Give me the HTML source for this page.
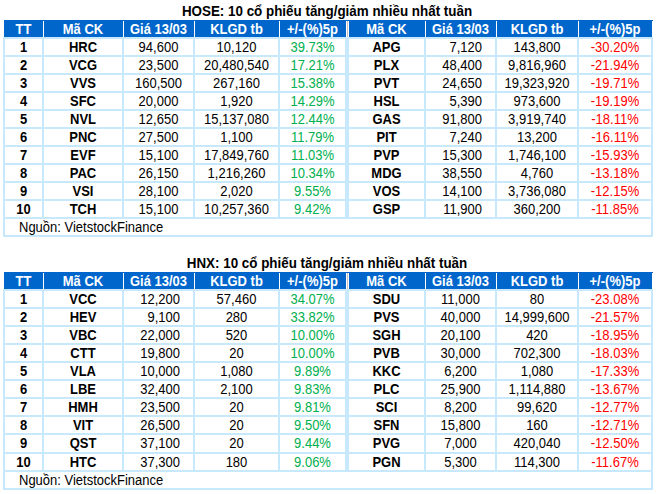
<!DOCTYPE html>
<html><head><meta charset="utf-8"><style>
html,body{margin:0;padding:0;background:#fff;width:656px;height:494px;overflow:hidden;position:relative}
body>div{position:absolute}
.t{font-family:"Liberation Sans",sans-serif;font-size:13px;line-height:15px;white-space:nowrap;color:#000;transform:scaleY(1.11);transform-origin:50% 7px}
.h{font-weight:bold;color:#fff}
.b{font-weight:bold}
.g{color:#00b050}
.r{color:#ff0000}
.ti{left:-1px;width:656px;text-align:center;font-family:"Liberation Sans",sans-serif;font-weight:bold;font-size:13.4px;line-height:15px;white-space:nowrap;color:#000;transform:scaleY(1.11);transform-origin:50% 7px}
</style></head><body>
<div class="ti" style="top:3px">HOSE: 10 cổ phiếu tăng/giảm nhiều nhất tuần</div>
<div style="left:4px;top:20px;width:648px;height:17px;background:#0066cc;"></div>
<div style="left:652px;top:20px;width:1px;height:1px;background:#0066cc;"></div>
<div style="left:43px;top:21px;width:1px;height:16px;background:#fff;"></div>
<div style="left:123px;top:21px;width:1px;height:16px;background:#fff;"></div>
<div style="left:194px;top:21px;width:1px;height:16px;background:#fff;"></div>
<div style="left:279px;top:21px;width:1px;height:16px;background:#fff;"></div>
<div style="left:425px;top:21px;width:1px;height:16px;background:#fff;"></div>
<div style="left:496px;top:21px;width:1px;height:16px;background:#fff;"></div>
<div style="left:578px;top:21px;width:1px;height:16px;background:#fff;"></div>
<div style="left:346px;top:21px;width:3px;height:16px;background:#fff;"></div>
<div style="left:347px;top:21px;width:1px;height:16px;background:#c8c0c0;"></div>
<div class="t h" style="left:5px;top:21px;width:37px;text-align:center;">TT</div>
<div class="t h" style="left:44px;top:21px;width:78px;text-align:center;">Mã CK</div>
<div class="t h" style="left:124px;top:21px;width:69px;text-align:center;">Giá 13/03</div>
<div class="t h" style="left:195px;top:21px;width:83px;text-align:center;">KLGD tb</div>
<div class="t h" style="left:280px;top:21px;width:65px;text-align:center;">+/-(%)5p</div>
<div class="t h" style="left:349px;top:21px;width:75px;text-align:center;">Mã CK</div>
<div class="t h" style="left:426px;top:21px;width:69px;text-align:center;">Giá 13/03</div>
<div class="t h" style="left:497px;top:21px;width:80px;text-align:center;">KLGD tb</div>
<div class="t h" style="left:579px;top:21px;width:72px;text-align:center;">+/-(%)5p</div>
<div style="left:3px;top:37px;width:650px;height:2px;background:#c8e9fd;"></div>
<div style="left:3px;top:55px;width:650px;height:2px;background:#c8e9fd;"></div>
<div style="left:3px;top:73px;width:650px;height:2px;background:#c8e9fd;"></div>
<div style="left:3px;top:91px;width:650px;height:2px;background:#c8e9fd;"></div>
<div style="left:3px;top:109px;width:650px;height:2px;background:#c8e9fd;"></div>
<div style="left:3px;top:127px;width:650px;height:2px;background:#c8e9fd;"></div>
<div style="left:3px;top:145px;width:650px;height:2px;background:#c8e9fd;"></div>
<div style="left:3px;top:163px;width:650px;height:2px;background:#c8e9fd;"></div>
<div style="left:3px;top:181px;width:650px;height:2px;background:#c8e9fd;"></div>
<div style="left:3px;top:199px;width:650px;height:2px;background:#c8e9fd;"></div>
<div style="left:3px;top:217px;width:650px;height:2px;background:#c8e9fd;"></div>
<div style="left:3px;top:235px;width:650px;height:2px;background:#c8e9fd;"></div>
<div style="left:3px;top:37px;width:2px;height:200px;background:#c8e9fd;"></div>
<div style="left:42px;top:37px;width:2px;height:180px;background:#c8e9fd;"></div>
<div style="left:122px;top:37px;width:2px;height:180px;background:#c8e9fd;"></div>
<div style="left:193px;top:37px;width:2px;height:180px;background:#c8e9fd;"></div>
<div style="left:278px;top:37px;width:2px;height:180px;background:#c8e9fd;"></div>
<div style="left:345px;top:37px;width:4px;height:180px;background:#c8e9fd;"></div>
<div style="left:424px;top:37px;width:2px;height:180px;background:#c8e9fd;"></div>
<div style="left:495px;top:37px;width:2px;height:180px;background:#c8e9fd;"></div>
<div style="left:577px;top:37px;width:2px;height:180px;background:#c8e9fd;"></div>
<div style="left:651px;top:37px;width:2px;height:200px;background:#c8e9fd;"></div>
<div class="t b" style="left:5px;top:39px;width:37px;text-align:center;">1</div>
<div class="t b" style="left:44px;top:39px;width:78px;text-align:center;">HRC</div>
<div class="t n" style="left:124px;top:39px;width:69px;text-align:center;">94,600</div>
<div class="t n" style="left:195px;top:39px;width:83px;text-align:center;">10,120</div>
<div class="t g" style="left:280px;top:39px;width:65px;text-align:center;">39.73%</div>
<div class="t b" style="left:349px;top:39px;width:75px;text-align:center;">APG</div>
<div class="t n" style="left:426px;top:39px;width:56px;text-align:right;">7,120</div>
<div class="t n" style="left:497px;top:39px;width:80px;text-align:center;">143,800</div>
<div class="t r" style="left:579px;top:39px;width:72px;text-align:center;">-30.20%</div>
<div class="t b" style="left:5px;top:57px;width:37px;text-align:center;">2</div>
<div class="t b" style="left:44px;top:57px;width:78px;text-align:center;">VCG</div>
<div class="t n" style="left:124px;top:57px;width:69px;text-align:center;">23,500</div>
<div class="t n" style="left:195px;top:57px;width:83px;text-align:center;">20,480,540</div>
<div class="t g" style="left:280px;top:57px;width:65px;text-align:center;">17.21%</div>
<div class="t b" style="left:349px;top:57px;width:75px;text-align:center;">PLX</div>
<div class="t n" style="left:426px;top:57px;width:56px;text-align:right;">48,400</div>
<div class="t n" style="left:497px;top:57px;width:80px;text-align:center;">9,816,960</div>
<div class="t r" style="left:579px;top:57px;width:72px;text-align:center;">-21.94%</div>
<div class="t b" style="left:5px;top:75px;width:37px;text-align:center;">3</div>
<div class="t b" style="left:44px;top:75px;width:78px;text-align:center;">VVS</div>
<div class="t n" style="left:124px;top:75px;width:69px;text-align:center;">160,500</div>
<div class="t n" style="left:195px;top:75px;width:83px;text-align:center;">267,160</div>
<div class="t g" style="left:280px;top:75px;width:65px;text-align:center;">15.38%</div>
<div class="t b" style="left:349px;top:75px;width:75px;text-align:center;">PVT</div>
<div class="t n" style="left:426px;top:75px;width:56px;text-align:right;">24,650</div>
<div class="t n" style="left:497px;top:75px;width:80px;text-align:center;">19,323,920</div>
<div class="t r" style="left:579px;top:75px;width:72px;text-align:center;">-19.71%</div>
<div class="t b" style="left:5px;top:93px;width:37px;text-align:center;">4</div>
<div class="t b" style="left:44px;top:93px;width:78px;text-align:center;">SFC</div>
<div class="t n" style="left:124px;top:93px;width:69px;text-align:center;">20,000</div>
<div class="t n" style="left:195px;top:93px;width:83px;text-align:center;">1,920</div>
<div class="t g" style="left:280px;top:93px;width:65px;text-align:center;">14.29%</div>
<div class="t b" style="left:349px;top:93px;width:75px;text-align:center;">HSL</div>
<div class="t n" style="left:426px;top:93px;width:56px;text-align:right;">5,390</div>
<div class="t n" style="left:497px;top:93px;width:80px;text-align:center;">973,600</div>
<div class="t r" style="left:579px;top:93px;width:72px;text-align:center;">-19.19%</div>
<div class="t b" style="left:5px;top:111px;width:37px;text-align:center;">5</div>
<div class="t b" style="left:44px;top:111px;width:78px;text-align:center;">NVL</div>
<div class="t n" style="left:124px;top:111px;width:69px;text-align:center;">12,650</div>
<div class="t n" style="left:195px;top:111px;width:83px;text-align:center;">15,137,080</div>
<div class="t g" style="left:280px;top:111px;width:65px;text-align:center;">12.44%</div>
<div class="t b" style="left:349px;top:111px;width:75px;text-align:center;">GAS</div>
<div class="t n" style="left:426px;top:111px;width:56px;text-align:right;">91,800</div>
<div class="t n" style="left:497px;top:111px;width:80px;text-align:center;">3,919,740</div>
<div class="t r" style="left:579px;top:111px;width:72px;text-align:center;">-18.11%</div>
<div class="t b" style="left:5px;top:129px;width:37px;text-align:center;">6</div>
<div class="t b" style="left:44px;top:129px;width:78px;text-align:center;">PNC</div>
<div class="t n" style="left:124px;top:129px;width:69px;text-align:center;">27,500</div>
<div class="t n" style="left:195px;top:129px;width:83px;text-align:center;">1,100</div>
<div class="t g" style="left:280px;top:129px;width:65px;text-align:center;">11.79%</div>
<div class="t b" style="left:349px;top:129px;width:75px;text-align:center;">PIT</div>
<div class="t n" style="left:426px;top:129px;width:56px;text-align:right;">7,240</div>
<div class="t n" style="left:497px;top:129px;width:80px;text-align:center;">13,200</div>
<div class="t r" style="left:579px;top:129px;width:72px;text-align:center;">-16.11%</div>
<div class="t b" style="left:5px;top:147px;width:37px;text-align:center;">7</div>
<div class="t b" style="left:44px;top:147px;width:78px;text-align:center;">EVF</div>
<div class="t n" style="left:124px;top:147px;width:69px;text-align:center;">15,100</div>
<div class="t n" style="left:195px;top:147px;width:83px;text-align:center;">17,849,760</div>
<div class="t g" style="left:280px;top:147px;width:65px;text-align:center;">11.03%</div>
<div class="t b" style="left:349px;top:147px;width:75px;text-align:center;">PVP</div>
<div class="t n" style="left:426px;top:147px;width:56px;text-align:right;">15,300</div>
<div class="t n" style="left:497px;top:147px;width:80px;text-align:center;">1,746,100</div>
<div class="t r" style="left:579px;top:147px;width:72px;text-align:center;">-15.93%</div>
<div class="t b" style="left:5px;top:165px;width:37px;text-align:center;">8</div>
<div class="t b" style="left:44px;top:165px;width:78px;text-align:center;">PAC</div>
<div class="t n" style="left:124px;top:165px;width:69px;text-align:center;">26,150</div>
<div class="t n" style="left:195px;top:165px;width:83px;text-align:center;">1,216,260</div>
<div class="t g" style="left:280px;top:165px;width:65px;text-align:center;">10.34%</div>
<div class="t b" style="left:349px;top:165px;width:75px;text-align:center;">MDG</div>
<div class="t n" style="left:426px;top:165px;width:56px;text-align:right;">38,550</div>
<div class="t n" style="left:497px;top:165px;width:80px;text-align:center;">4,760</div>
<div class="t r" style="left:579px;top:165px;width:72px;text-align:center;">-13.18%</div>
<div class="t b" style="left:5px;top:183px;width:37px;text-align:center;">9</div>
<div class="t b" style="left:44px;top:183px;width:78px;text-align:center;">VSI</div>
<div class="t n" style="left:124px;top:183px;width:69px;text-align:center;">28,100</div>
<div class="t n" style="left:195px;top:183px;width:83px;text-align:center;">2,020</div>
<div class="t g" style="left:280px;top:183px;width:65px;text-align:center;">9.55%</div>
<div class="t b" style="left:349px;top:183px;width:75px;text-align:center;">VOS</div>
<div class="t n" style="left:426px;top:183px;width:56px;text-align:right;">14,100</div>
<div class="t n" style="left:497px;top:183px;width:80px;text-align:center;">3,736,080</div>
<div class="t r" style="left:579px;top:183px;width:72px;text-align:center;">-12.15%</div>
<div class="t b" style="left:5px;top:201px;width:37px;text-align:center;">10</div>
<div class="t b" style="left:44px;top:201px;width:78px;text-align:center;">TCH</div>
<div class="t n" style="left:124px;top:201px;width:69px;text-align:center;">15,100</div>
<div class="t n" style="left:195px;top:201px;width:83px;text-align:center;">10,257,360</div>
<div class="t g" style="left:280px;top:201px;width:65px;text-align:center;">9.42%</div>
<div class="t b" style="left:349px;top:201px;width:75px;text-align:center;">GSP</div>
<div class="t n" style="left:426px;top:201px;width:56px;text-align:right;">11,900</div>
<div class="t n" style="left:497px;top:201px;width:80px;text-align:center;">360,200</div>
<div class="t r" style="left:579px;top:201px;width:72px;text-align:center;">-11.85%</div>
<div class="t n" style="left:19px;top:219px;width:300px;text-align:left;">Nguồn: VietstockFinance</div>
<div class="ti" style="top:255px">HNX: 10 cổ phiếu tăng/giảm nhiều nhất tuần</div>
<div style="left:4px;top:272px;width:648px;height:17px;background:#0066cc;"></div>
<div style="left:652px;top:272px;width:1px;height:1px;background:#0066cc;"></div>
<div style="left:43px;top:273px;width:1px;height:16px;background:#fff;"></div>
<div style="left:123px;top:273px;width:1px;height:16px;background:#fff;"></div>
<div style="left:194px;top:273px;width:1px;height:16px;background:#fff;"></div>
<div style="left:279px;top:273px;width:1px;height:16px;background:#fff;"></div>
<div style="left:425px;top:273px;width:1px;height:16px;background:#fff;"></div>
<div style="left:496px;top:273px;width:1px;height:16px;background:#fff;"></div>
<div style="left:578px;top:273px;width:1px;height:16px;background:#fff;"></div>
<div style="left:346px;top:273px;width:3px;height:16px;background:#fff;"></div>
<div style="left:347px;top:273px;width:1px;height:16px;background:#c8c0c0;"></div>
<div class="t h" style="left:5px;top:273px;width:37px;text-align:center;">TT</div>
<div class="t h" style="left:44px;top:273px;width:78px;text-align:center;">Mã CK</div>
<div class="t h" style="left:124px;top:273px;width:69px;text-align:center;">Giá 13/03</div>
<div class="t h" style="left:195px;top:273px;width:83px;text-align:center;">KLGD tb</div>
<div class="t h" style="left:280px;top:273px;width:65px;text-align:center;">+/-(%)5p</div>
<div class="t h" style="left:349px;top:273px;width:75px;text-align:center;">Mã CK</div>
<div class="t h" style="left:426px;top:273px;width:69px;text-align:center;">Giá 13/03</div>
<div class="t h" style="left:497px;top:273px;width:80px;text-align:center;">KLGD tb</div>
<div class="t h" style="left:579px;top:273px;width:72px;text-align:center;">+/-(%)5p</div>
<div style="left:3px;top:289px;width:650px;height:2px;background:#c8e9fd;"></div>
<div style="left:3px;top:307px;width:650px;height:2px;background:#c8e9fd;"></div>
<div style="left:3px;top:325px;width:650px;height:2px;background:#c8e9fd;"></div>
<div style="left:3px;top:343px;width:650px;height:2px;background:#c8e9fd;"></div>
<div style="left:3px;top:361px;width:650px;height:2px;background:#c8e9fd;"></div>
<div style="left:3px;top:379px;width:650px;height:2px;background:#c8e9fd;"></div>
<div style="left:3px;top:397px;width:650px;height:2px;background:#c8e9fd;"></div>
<div style="left:3px;top:415px;width:650px;height:2px;background:#c8e9fd;"></div>
<div style="left:3px;top:433px;width:650px;height:2px;background:#c8e9fd;"></div>
<div style="left:3px;top:452px;width:650px;height:2px;background:#c8e9fd;"></div>
<div style="left:3px;top:470px;width:650px;height:2px;background:#c8e9fd;"></div>
<div style="left:3px;top:488px;width:650px;height:2px;background:#c8e9fd;"></div>
<div style="left:3px;top:289px;width:2px;height:201px;background:#c8e9fd;"></div>
<div style="left:42px;top:289px;width:2px;height:181px;background:#c8e9fd;"></div>
<div style="left:122px;top:289px;width:2px;height:181px;background:#c8e9fd;"></div>
<div style="left:193px;top:289px;width:2px;height:181px;background:#c8e9fd;"></div>
<div style="left:278px;top:289px;width:2px;height:181px;background:#c8e9fd;"></div>
<div style="left:345px;top:289px;width:4px;height:181px;background:#c8e9fd;"></div>
<div style="left:424px;top:289px;width:2px;height:181px;background:#c8e9fd;"></div>
<div style="left:495px;top:289px;width:2px;height:181px;background:#c8e9fd;"></div>
<div style="left:577px;top:289px;width:2px;height:181px;background:#c8e9fd;"></div>
<div style="left:651px;top:289px;width:2px;height:201px;background:#c8e9fd;"></div>
<div class="t b" style="left:5px;top:291px;width:37px;text-align:center;">1</div>
<div class="t b" style="left:44px;top:291px;width:78px;text-align:center;">VCC</div>
<div class="t n" style="left:124px;top:291px;width:56px;text-align:right;">12,200</div>
<div class="t n" style="left:195px;top:291px;width:83px;text-align:center;">57,460</div>
<div class="t g" style="left:280px;top:291px;width:65px;text-align:center;">34.07%</div>
<div class="t b" style="left:349px;top:291px;width:75px;text-align:center;">SDU</div>
<div class="t n" style="left:426px;top:291px;width:69px;text-align:center;">11,000</div>
<div class="t n" style="left:497px;top:291px;width:80px;text-align:center;">80</div>
<div class="t r" style="left:579px;top:291px;width:72px;text-align:center;">-23.08%</div>
<div class="t b" style="left:5px;top:309px;width:37px;text-align:center;">2</div>
<div class="t b" style="left:44px;top:309px;width:78px;text-align:center;">HEV</div>
<div class="t n" style="left:124px;top:309px;width:56px;text-align:right;">9,100</div>
<div class="t n" style="left:195px;top:309px;width:83px;text-align:center;">280</div>
<div class="t g" style="left:280px;top:309px;width:65px;text-align:center;">33.82%</div>
<div class="t b" style="left:349px;top:309px;width:75px;text-align:center;">PVS</div>
<div class="t n" style="left:426px;top:309px;width:69px;text-align:center;">40,000</div>
<div class="t n" style="left:497px;top:309px;width:80px;text-align:center;">14,999,600</div>
<div class="t r" style="left:579px;top:309px;width:72px;text-align:center;">-21.57%</div>
<div class="t b" style="left:5px;top:327px;width:37px;text-align:center;">3</div>
<div class="t b" style="left:44px;top:327px;width:78px;text-align:center;">VBC</div>
<div class="t n" style="left:124px;top:327px;width:56px;text-align:right;">22,000</div>
<div class="t n" style="left:195px;top:327px;width:83px;text-align:center;">520</div>
<div class="t g" style="left:280px;top:327px;width:65px;text-align:center;">10.00%</div>
<div class="t b" style="left:349px;top:327px;width:75px;text-align:center;">SGH</div>
<div class="t n" style="left:426px;top:327px;width:69px;text-align:center;">20,100</div>
<div class="t n" style="left:497px;top:327px;width:80px;text-align:center;">420</div>
<div class="t r" style="left:579px;top:327px;width:72px;text-align:center;">-18.95%</div>
<div class="t b" style="left:5px;top:345px;width:37px;text-align:center;">4</div>
<div class="t b" style="left:44px;top:345px;width:78px;text-align:center;">CTT</div>
<div class="t n" style="left:124px;top:345px;width:56px;text-align:right;">19,800</div>
<div class="t n" style="left:195px;top:345px;width:83px;text-align:center;">20</div>
<div class="t g" style="left:280px;top:345px;width:65px;text-align:center;">10.00%</div>
<div class="t b" style="left:349px;top:345px;width:75px;text-align:center;">PVB</div>
<div class="t n" style="left:426px;top:345px;width:69px;text-align:center;">30,000</div>
<div class="t n" style="left:497px;top:345px;width:80px;text-align:center;">702,300</div>
<div class="t r" style="left:579px;top:345px;width:72px;text-align:center;">-18.03%</div>
<div class="t b" style="left:5px;top:363px;width:37px;text-align:center;">5</div>
<div class="t b" style="left:44px;top:363px;width:78px;text-align:center;">VLA</div>
<div class="t n" style="left:124px;top:363px;width:56px;text-align:right;">10,000</div>
<div class="t n" style="left:195px;top:363px;width:83px;text-align:center;">1,080</div>
<div class="t g" style="left:280px;top:363px;width:65px;text-align:center;">9.89%</div>
<div class="t b" style="left:349px;top:363px;width:75px;text-align:center;">KKC</div>
<div class="t n" style="left:426px;top:363px;width:69px;text-align:center;">6,200</div>
<div class="t n" style="left:497px;top:363px;width:80px;text-align:center;">1,080</div>
<div class="t r" style="left:579px;top:363px;width:72px;text-align:center;">-17.33%</div>
<div class="t b" style="left:5px;top:381px;width:37px;text-align:center;">6</div>
<div class="t b" style="left:44px;top:381px;width:78px;text-align:center;">LBE</div>
<div class="t n" style="left:124px;top:381px;width:56px;text-align:right;">32,400</div>
<div class="t n" style="left:195px;top:381px;width:83px;text-align:center;">2,100</div>
<div class="t g" style="left:280px;top:381px;width:65px;text-align:center;">9.83%</div>
<div class="t b" style="left:349px;top:381px;width:75px;text-align:center;">PLC</div>
<div class="t n" style="left:426px;top:381px;width:69px;text-align:center;">25,900</div>
<div class="t n" style="left:497px;top:381px;width:80px;text-align:center;">1,114,880</div>
<div class="t r" style="left:579px;top:381px;width:72px;text-align:center;">-13.67%</div>
<div class="t b" style="left:5px;top:399px;width:37px;text-align:center;">7</div>
<div class="t b" style="left:44px;top:399px;width:78px;text-align:center;">HMH</div>
<div class="t n" style="left:124px;top:399px;width:56px;text-align:right;">23,500</div>
<div class="t n" style="left:195px;top:399px;width:83px;text-align:center;">20</div>
<div class="t g" style="left:280px;top:399px;width:65px;text-align:center;">9.81%</div>
<div class="t b" style="left:349px;top:399px;width:75px;text-align:center;">SCI</div>
<div class="t n" style="left:426px;top:399px;width:69px;text-align:center;">8,200</div>
<div class="t n" style="left:497px;top:399px;width:80px;text-align:center;">99,620</div>
<div class="t r" style="left:579px;top:399px;width:72px;text-align:center;">-12.77%</div>
<div class="t b" style="left:5px;top:417px;width:37px;text-align:center;">8</div>
<div class="t b" style="left:44px;top:417px;width:78px;text-align:center;">VIT</div>
<div class="t n" style="left:124px;top:417px;width:56px;text-align:right;">26,500</div>
<div class="t n" style="left:195px;top:417px;width:83px;text-align:center;">20</div>
<div class="t g" style="left:280px;top:417px;width:65px;text-align:center;">9.50%</div>
<div class="t b" style="left:349px;top:417px;width:75px;text-align:center;">SFN</div>
<div class="t n" style="left:426px;top:417px;width:69px;text-align:center;">15,800</div>
<div class="t n" style="left:497px;top:417px;width:80px;text-align:center;">160</div>
<div class="t r" style="left:579px;top:417px;width:72px;text-align:center;">-12.71%</div>
<div class="t b" style="left:5px;top:435px;width:37px;text-align:center;">9</div>
<div class="t b" style="left:44px;top:435px;width:78px;text-align:center;">QST</div>
<div class="t n" style="left:124px;top:435px;width:56px;text-align:right;">37,100</div>
<div class="t n" style="left:195px;top:435px;width:83px;text-align:center;">20</div>
<div class="t g" style="left:280px;top:435px;width:65px;text-align:center;">9.44%</div>
<div class="t b" style="left:349px;top:435px;width:75px;text-align:center;">PVG</div>
<div class="t n" style="left:426px;top:435px;width:69px;text-align:center;">7,000</div>
<div class="t n" style="left:497px;top:435px;width:80px;text-align:center;">420,040</div>
<div class="t r" style="left:579px;top:435px;width:72px;text-align:center;">-12.50%</div>
<div class="t b" style="left:5px;top:454px;width:37px;text-align:center;">10</div>
<div class="t b" style="left:44px;top:454px;width:78px;text-align:center;">HTC</div>
<div class="t n" style="left:124px;top:454px;width:56px;text-align:right;">37,300</div>
<div class="t n" style="left:195px;top:454px;width:83px;text-align:center;">180</div>
<div class="t g" style="left:280px;top:454px;width:65px;text-align:center;">9.06%</div>
<div class="t b" style="left:349px;top:454px;width:75px;text-align:center;">PGN</div>
<div class="t n" style="left:426px;top:454px;width:69px;text-align:center;">5,300</div>
<div class="t n" style="left:497px;top:454px;width:80px;text-align:center;">114,300</div>
<div class="t r" style="left:579px;top:454px;width:72px;text-align:center;">-11.67%</div>
<div class="t n" style="left:19px;top:472px;width:300px;text-align:left;">Nguồn: VietstockFinance</div>
</body></html>
